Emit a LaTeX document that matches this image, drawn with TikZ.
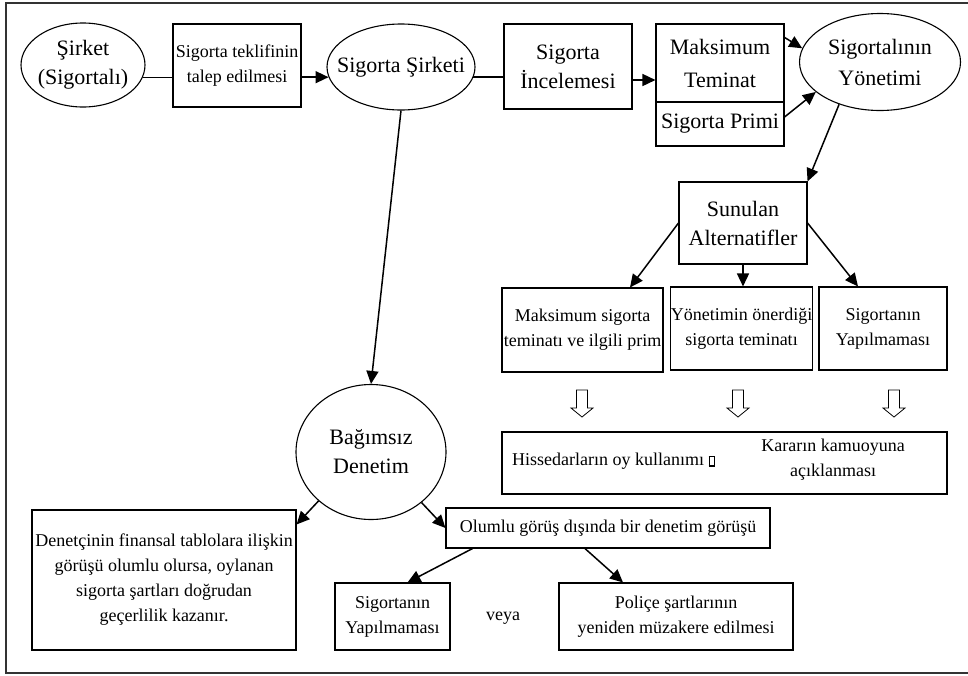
\documentclass[tikz,border=0pt]{standalone}
\usepackage{fontspec}
\setmainfont{Liberation Serif}
\usetikzlibrary{shapes.geometric,arrows.meta}
\newcommand\Lf{\fontsize{22}{29}\selectfont}
\newcommand\Mf{\fontsize{18}{25}\selectfont}
\tikzset{
  ell/.style={ellipse, draw, line width=1.1pt, inner sep=0pt},
  etext/.style={label={[font=\Lf, align=center, inner sep=0pt]center:#1}},
  bx/.style={rectangle, draw, line width=1.1pt, inner sep=0pt, align=center},
  arr/.style={-{Triangle[length=13pt,width=12pt]}, line width=1.5pt},
  ln/.style={line width=1.5pt},
  harrow/.pic={\draw[line width=0.8pt, fill=white] (-5.5,0) -- (5.5,0) -- (5.5,18) -- (11,18) -- (0,27) -- (-11,18) -- (-5.5,18) -- cycle;}
}
\begin{document}
\begin{tikzpicture}[x=1pt,y=-1pt]
\useasboundingbox (0,0) rectangle (968,675);
\draw[line width=1.5pt, black!80] (970,3) -- (6,3) -- (6,673) -- (970,673);

% top row
\node[ell, minimum width=124pt, minimum height=84pt, etext={Şirket\\(Sigortalı)}] (sirket) at (83,65) {};
\node[bx, minimum width=128pt, minimum height=83pt, font=\Mf] (teklif) at (237,65.5) {Sigorta teklifinin\\talep edilmesi};
\node[ell, minimum width=148pt, minimum height=86pt, etext={Sigorta Şirketi}] (sirketi) at (401,67) {};
\node[bx, minimum width=128pt, minimum height=85pt, font=\Lf] (inceleme) at (568,66.5) {Sigorta\\İncelemesi};
\node[bx, minimum width=128pt, minimum height=78pt, font=\fontsize{22}{33}\selectfont] (maks) at (720,63) {Maksimum\\Teminat};
\node[bx, minimum width=128pt, minimum height=44pt, font=\Lf] (primi) at (720,124) {Sigorta Primi};
\node[ell, minimum width=161pt, minimum height=97pt, etext={Sigortalının\\[2pt]Yönetimi}] (yonetim) at (880,62) {};

% alternatives
\node[bx, minimum width=128pt, minimum height=82pt, font=\Lf] (sunulan) at (743,223) {Sunulan\\Alternatifler};
\node[bx, minimum width=161pt, minimum height=84pt, font=\Mf] (alt1) at (582.5,330) {Maksimum sigorta\\teminatı ve ilgili prim};
\node[bx, minimum width=139pt, minimum height=83pt, font=\Mf] (alt2) at (741.5,328.5) {Yönetimin önerdiği\\sigorta teminatı};
\node[bx, minimum width=128pt, minimum height=83pt, font=\Mf] (alt3) at (883,328.5) {Sigortanın\\Yapılmaması};

\pic at (582,390) {harrow};
\pic at (738,390) {harrow};
\pic at (894,390) {harrow};

\node[bx, minimum width=445pt, minimum height=62pt] (oy) at (724.5,463) {};
\node[anchor=west, font=\Mf, inner sep=0pt] (hisse) at (512,461) {Hissedarların oy kullanımı {\fboxsep=0pt\fboxrule=1.4pt\fbox{\rule{4pt}{0pt}\rule{0pt}{8pt}}}};
\node[font=\Mf, align=center, inner sep=0pt] (karar) at (833,460) {Kararın kamuoyuna\\açıklanması};

% audit
\node[ell, minimum width=150pt, minimum height=135pt, etext={Bağımsız\\Denetim}] (bagimsiz) at (371,452) {};
\node[bx, minimum width=264pt, minimum height=140pt, font=\Mf] (denetci) at (164,580) {Denetçinin finansal tablolara ilişkin\\görüşü olumlu olursa, oylanan\\sigorta şartları doğrudan\\geçerlilik kazanır.};
\node[bx, minimum width=324pt, minimum height=40pt, font=\Mf] (olumlu) at (608,528) {Olumlu görüş dışında bir denetim görüşü};
\node[bx, minimum width=115pt, minimum height=67pt, font=\Mf] (sy) at (392.5,616.5) {Sigortanın\\Yapılmaması};
\node[font=\Mf, inner sep=0pt] (veya) at (503,618) {veya};
\node[bx, minimum width=234pt, minimum height=67pt, font=\Mf] (police) at (676,616.5) {Poliçe şartlarının\\yeniden müzakere edilmesi};

% connectors
\draw[ln] (sirket.-12) -- (teklif.west |- sirket.-12);
\draw[arr] (teklif.east |- sirketi.188) -- (sirketi.188);
\draw[ln] (sirketi.-8) -- (inceleme.west |- sirketi.-8);
\draw[arr] ([yshift=-13.5pt]inceleme.east) -- ([yshift=-13.5pt]inceleme.east -| maks.west);
\draw[arr] ([yshift=-14pt]maks.north east) -- (yonetim.170);
\draw[arr] ([yshift=7pt]primi.east) -- (yonetim.205);
\draw[arr] (yonetim.226) -- (sunulan.north east);
\draw[arr] (sunulan.west) -- ([xshift=47.5pt]alt1.north);
\draw[arr] (sunulan.south) -- (sunulan.south |- alt2.north);
\draw[arr] (sunulan.east) -- ([xshift=-25pt]alt3.north);
\draw[arr] (sirketi.south) -- (bagimsiz.north);
\draw[arr] (bagimsiz.223) -- ([yshift=-15pt]denetci.north east);
\draw[arr] (bagimsiz.-45) -- (olumlu.west);
\draw[arr] ([xshift=27pt]olumlu.south west) -- ([xshift=15pt]sy.north);
\draw[arr] ([xshift=-23pt]olumlu.south) -- ([xshift=-53pt]police.north);
\end{tikzpicture}
\end{document}
